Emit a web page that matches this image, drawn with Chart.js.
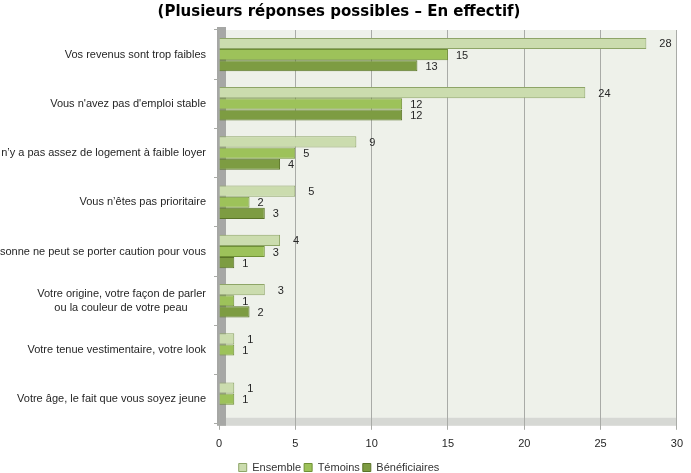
<!DOCTYPE html>
<html>
<head>
<meta charset="utf-8">
<script src="https://cdn.jsdelivr.net/npm/chart.js@4.4.1/dist/chart.umd.min.js"></script>
<style>
html,body{margin:0;padding:0;background:#fff;}
#wrap{width:691px;height:473px;}
</style>
</head>
<body>
<div id="wrap"><canvas id="c" width="691" height="473"></canvas></div>
<script>
const categories = [
  "Vos revenus sont trop faibles",
  "Vous n'avez pas d'emploi stable",
  "Il n’y a pas assez de logement à faible loyer",
  "Vous n’êtes pas prioritaire",
  "Personne ne peut se porter caution pour vous",
  ["Votre origine, votre façon de parler", "ou la couleur de votre peau      "],
  "Votre tenue vestimentaire, votre look",
  "Votre âge, le fait que vous soyez jeune"
];
const seriesNames = ["Ensemble", "Témoins", "Bénéficiaires"];
const ensemble = [28, 24, 9, 5, 4, 3, 1, 1];
const temoins = [15, 12, 5, 2, 3, 1, 1, 1];
const beneficiaires = [13, 12, 4, 3, 1, 2, null, null];
const xTicks = [0, 5, 10, 15, 20, 25, 30];
const titleText = "(Plusieurs réponses possibles – En effectif)";

const FONT = "'Liberation Sans', Arial, sans-serif";
const labelOffsets = [13, 8, 8];

const bgPlugin = {
  id: 'bg3d',
  beforeDraw(chart) {
    const {ctx, chartArea: a} = chart;
    ctx.save();
    ctx.fillStyle = '#eef1ea';
    ctx.fillRect(a.left, a.top, a.right - a.left, a.bottom - a.top);
    // floor
    ctx.fillStyle = '#d6d8d4';
    ctx.fillRect(a.left, a.bottom - 6, a.right - a.left, 8);
    // left wall
    ctx.fillStyle = '#a6a7a5';
    ctx.fillRect(a.left - 2, a.top - 3, 9, a.bottom - a.top + 5);
    ctx.restore();
  }
};

const labelPlugin = {
  id: 'vals',
  afterDatasetsDraw(chart) {
    const {ctx} = chart;
    ctx.save();
    ctx.font = "11px " + FONT;
    ctx.fillStyle = '#262626';
    ctx.textAlign = 'left';
    ctx.textBaseline = 'middle';
    chart.data.datasets.forEach((ds, i) => {
      const meta = chart.getDatasetMeta(i);
      meta.data.forEach((bar, j) => {
        const v = ds.data[j];
        if (v === null || v === undefined) return;
        ctx.fillText(String(v), bar.x + labelOffsets[i], bar.y + 1);
      });
    });
    ctx.restore();
  }
};

new Chart(document.getElementById('c'), {
  type: 'bar',
  data: {
    labels: categories,
    datasets: [
      { label: seriesNames[0], data: ensemble, backgroundColor: '#cbdcae', borderColor: '#8ea567', borderWidth: 1 },
      { label: seriesNames[1], data: temoins, backgroundColor: '#9dc25a', borderColor: '#6f9035', borderWidth: 1 },
      { label: seriesNames[2], data: beneficiaires, backgroundColor: '#7d9c42', borderColor: '#5a7428', borderWidth: 1 }
    ]
  },
  options: {
    indexAxis: 'y',
    responsive: false,
    animation: false,
    devicePixelRatio: 1,
    layout: { padding: { left: 0, right: 13, top: 0, bottom: -10 } },
    datasets: { bar: { categoryPercentage: 0.68, barPercentage: 1.0 } },
    plugins: {
      title: {
        display: true,
        text: titleText,
        color: '#000',
        font: { family: "'DejaVu Sans', Verdana, sans-serif", size: 15, weight: 'bold' },
        padding: { top: 3, bottom: 9 }
      },
      legend: {
        position: 'bottom',
        labels: {
          boxWidth: 8, boxHeight: 8, padding: 3,
          color: '#333',
          font: { family: FONT, size: 11 }
        }
      },
      tooltip: { enabled: false }
    },
    scales: {
      x: {
        min: 0, max: 30,
        afterBuildTicks(scale) { scale.ticks = xTicks.map(v => ({ value: v })); },
        grid: { color: '#a9aba7', lineWidth: 1, drawTicks: true, tickLength: 6, tickColor: '#a9aba7' },
        border: { display: false },
        ticks: { color: '#262626', padding: 8, font: { family: FONT, size: 11 } }
      },
      y: {
        afterFit(scale) { scale.width = 219; },
        grid: { display: true, drawOnChartArea: false, offset: true, tickLength: 5, color: '#a9aba7' },
        border: { display: false },
        ticks: { color: '#262626', padding: 8, font: { family: FONT, size: 11, lineHeight: 1.25 } }
      }
    }
  },
  plugins: [bgPlugin, labelPlugin]
});
</script>
</body>
</html>
